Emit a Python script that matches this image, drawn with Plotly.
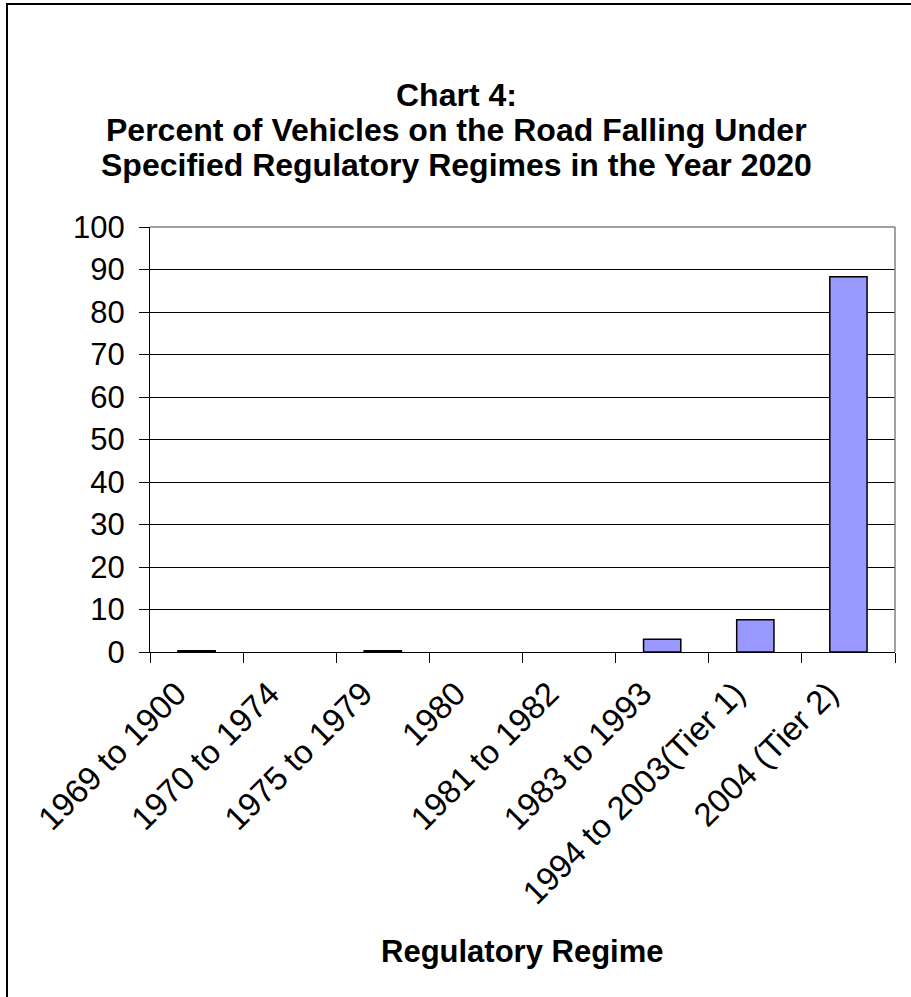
import plotly.graph_objects as go

# Regulatory regimes and share of vehicles on the road in 2020 (%)
regimes = ["1969 to 1900", "1970 to 1974", "1975 to 1979", "1980",
           "1981 to 1982", "1983 to 1993", "1994 to 2003(Tier 1)", "2004 (Tier 2)"]
percent = [0.3, 0.0, 0.3, 0.0, 0.0, 3.0, 7.6, 88.3]
y_ticks = list(range(0, 101, 10))

title_lines = ["Chart 4:",
               "Percent of Vehicles on the Road Falling Under",
               "Specified Regulatory Regimes in the Year 2020"]
x_title = "Regulatory Regime"

FONT = "Liberation Sans, Arial, sans-serif"

# plot-area geometry (pixels)
W, H = 911, 997
L, R, T, B = 150, 16, 227, 345
pw, ph = W - L - R, H - T - B


def px_x(x):
    return (x - L) / pw


def px_y(y):
    return (H - B - y) / ph


# empty categories get no outline
outline = [1.5 if v > 0 else 0 for v in percent]

fig = go.Figure(go.Bar(
    x=regimes, y=percent,
    marker=dict(color="#9999FF", line=dict(color="black", width=outline)),
))

fig.update_layout(
    width=W, height=H,
    margin=dict(l=L, r=R, t=T, b=B),
    paper_bgcolor="white", plot_bgcolor="white",
    bargap=0.6,
    showlegend=False,
    font=dict(family=FONT, color="black"),
)

fig.update_xaxes(
    type="category",
    tickangle=-45,
    tickfont=dict(size=33),
    ticks="outside", ticklen=10, tickcolor="black", tickwidth=1,
    tickson="boundaries",
    ticklabelshift=-20, ticklabelstandoff=8,
    showline=True, linecolor="black", linewidth=1,
    showgrid=False,
)
fig.update_yaxes(
    range=[0, 100],
    tickvals=y_ticks,
    tickfont=dict(size=31),
    ticks="outside", ticklen=10, tickcolor="black", tickwidth=1,
    ticklabelstandoff=8,
    showline=True, linecolor="black", linewidth=1,
    showgrid=True, gridcolor="black", gridwidth=1,
    zeroline=False,
)

# title lines
for text, yc in zip(title_lines, [95, 130, 165]):
    fig.add_annotation(
        text=f"<b>{text}</b>", x=px_x(456), y=px_y(yc),
        xref="paper", yref="paper", showarrow=False,
        xanchor="center", yanchor="middle",
        font=dict(size=32, family=FONT),
    )

# x-axis title
fig.add_annotation(
    text=f"<b>{x_title}</b>", x=0.5, y=px_y(951),
    xref="paper", yref="paper", showarrow=False,
    xanchor="center", yanchor="middle",
    font=dict(size=31, family=FONT),
)

# grey top and right edges of the plot area
fig.add_shape(type="line", xref="paper", yref="paper", x0=0, x1=1, y0=1, y1=1,
              line=dict(color="#808080", width=1.5), layer="above")
fig.add_shape(type="line", xref="paper", yref="paper", x0=1, x1=1, y0=0, y1=1,
              line=dict(color="#808080", width=1.5), layer="above")

# outer frame of the chart
fig.add_shape(type="rect", xref="paper", yref="paper",
              x0=px_x(7), x1=px_x(930), y0=px_y(1010), y1=px_y(4),
              line=dict(color="black", width=2), fillcolor="rgba(0,0,0,0)", layer="above")

fig.write_html("out.html")
